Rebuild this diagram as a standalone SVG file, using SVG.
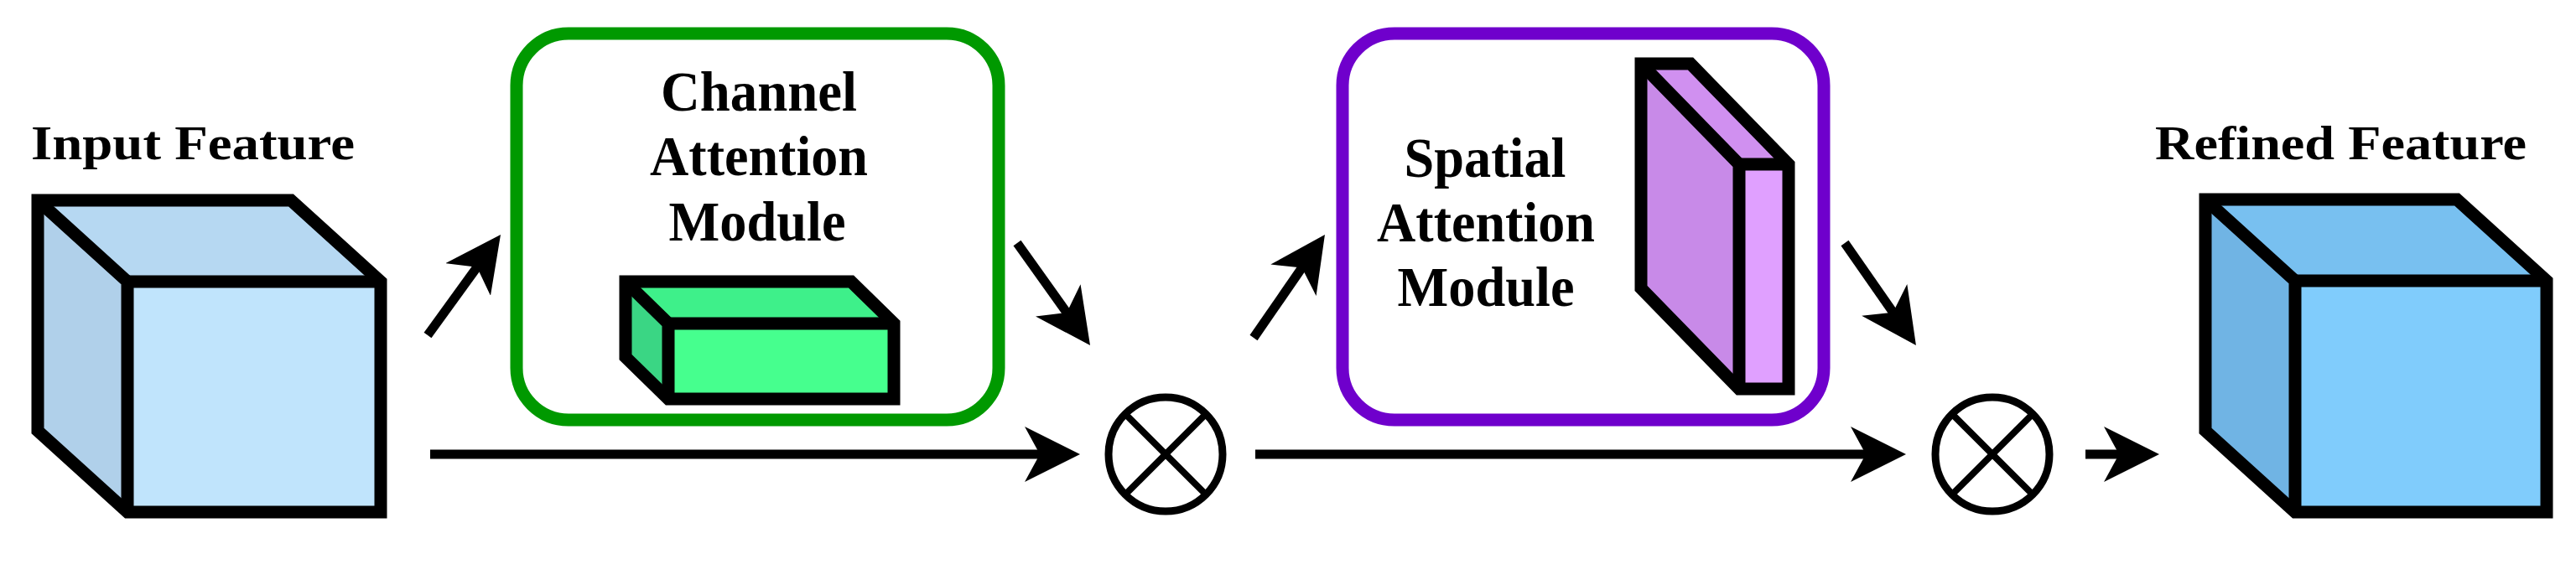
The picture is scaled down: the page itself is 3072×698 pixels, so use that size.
<svg xmlns="http://www.w3.org/2000/svg" width="3072" height="698" viewBox="0 0 3072 698">
<defs>
<style>
.lbl{font-family:"Liberation Serif","Times New Roman",serif;font-weight:bold;fill:#000;}
.big{font-size:57px;}
.mod{font-size:68px;text-anchor:middle;}
.out{fill:none;stroke:#000;stroke-width:15;stroke-linejoin:miter;}
.inner{fill:none;stroke:#000;stroke-width:15;stroke-linejoin:miter;}
.conn{stroke:#000;stroke-width:11;fill:none;marker-end:url(#head);}
.op{fill:#fff;stroke:#000;stroke-width:9;}
.opx{stroke:#000;stroke-width:8;}
</style>
<marker id="head" markerUnits="userSpaceOnUse" viewBox="0 0 66 66" refX="36" refY="33" markerWidth="66" markerHeight="66" orient="auto">
<path d="M0,0 L66,33 L0,66 L18,33 Z" fill="#000"/>
</marker>
</defs>
<rect width="3072" height="698" fill="#fff"/>

<g id="input-feature">
<text class="lbl big" x="37" y="190" textLength="386" lengthAdjust="spacingAndGlyphs">Input Feature</text>
<polygon points="45,239 347,239 454,336 152,336" fill="#b6d8f2"/>
<polygon points="45,239 152,336 152,611 45,514" fill="#b0d0ea"/>
<rect x="152" y="336" width="302" height="275" fill="#c0e4fc"/>
<polyline class="inner" points="45,239 152,336 152,611"/>
<line class="inner" x1="152" y1="336" x2="454" y2="336"/>
<polygon class="out" points="45,239 347,239 454,336 454,611 152,611 45,514"/>
</g>

<g id="channel-attention">
<rect x="616" y="40" width="575" height="461" rx="62" ry="62" fill="#fff" stroke="#009900" stroke-width="15"/>
<text class="lbl mod" x="905" y="132" textLength="234" lengthAdjust="spacingAndGlyphs">Channel</text>
<text class="lbl mod" x="905" y="209" textLength="260" lengthAdjust="spacingAndGlyphs">Attention</text>
<text class="lbl mod" x="903" y="287" textLength="211" lengthAdjust="spacingAndGlyphs">Module</text>
<polygon points="746,336 1015,336 1066,386 797,386" fill="#3ef08a"/>
<polygon points="746,336 797,386 797,476 746,426" fill="#3ad684"/>
<rect x="797" y="386" width="269" height="90" fill="#46ff8e"/>
<polyline class="inner" points="746,336 797,386 797,476"/>
<line class="inner" x1="797" y1="386" x2="1066" y2="386"/>
<polygon class="out" points="746,336 1015,336 1066,386 1066,476 797,476 746,426"/>
</g>

<g id="multiply-1">
<circle class="op" cx="1390" cy="542" r="68"/>
<line class="opx" x1="1342" y1="494" x2="1438" y2="590"/>
<line class="opx" x1="1438" y1="494" x2="1342" y2="590"/>
</g>

<g id="spatial-attention">
<rect x="1601" y="40" width="574" height="461" rx="62" ry="62" fill="#fff" stroke="#6f00cc" stroke-width="15"/>
<text class="lbl mod" x="1771" y="211" textLength="193" lengthAdjust="spacingAndGlyphs">Spatial</text>
<text class="lbl mod" x="1772" y="288" textLength="260" lengthAdjust="spacingAndGlyphs">Attention</text>
<text class="lbl mod" x="1772" y="365" textLength="211" lengthAdjust="spacingAndGlyphs">Module</text>
<polygon points="1957,76 2016,76 2133,196 2074,196" fill="#d090f0"/>
<polygon points="1957,76 2074,196 2074,464 1957,344" fill="#c88ae8"/>
<rect x="2074" y="196" width="59" height="268" fill="#e0a0ff"/>
<polyline class="inner" points="1957,76 2074,196 2074,464"/>
<line class="inner" x1="2074" y1="196" x2="2133" y2="196"/>
<polygon class="out" points="1957,76 2016,76 2133,196 2133,464 2074,464 1957,344"/>
</g>

<g id="multiply-2">
<circle class="op" cx="2376" cy="542" r="68"/>
<line class="opx" x1="2328" y1="494" x2="2424" y2="590"/>
<line class="opx" x1="2424" y1="494" x2="2328" y2="590"/>
</g>

<g id="refined-feature">
<text class="lbl big" x="2570" y="190" textLength="443" lengthAdjust="spacingAndGlyphs">Refined Feature</text>
<polygon points="2630,238 2930,238 3037,335 2737,335" fill="#78c0f0"/>
<polygon points="2630,238 2737,335 2737,611 2630,514" fill="#70b4e4"/>
<rect x="2737" y="335" width="300" height="276" fill="#80ccfc"/>
<polyline class="inner" points="2630,238 2737,335 2737,611"/>
<line class="inner" x1="2737" y1="335" x2="3037" y2="335"/>
<polygon class="out" points="2630,238 2930,238 3037,335 3037,611 2737,611 2630,514"/>
</g>

<g id="connectors">
<line class="conn" x1="510" y1="400" x2="579.4" y2="304.3"/>
<line class="conn" x1="1213" y1="290" x2="1282.6" y2="387.6"/>
<line class="conn" x1="1495" y1="403" x2="1562.9" y2="304.7"/>
<line class="conn" x1="2200" y1="290" x2="2267.8" y2="387.4"/>
<line class="conn" x1="513" y1="542" x2="1258" y2="542"/>
<line class="conn" x1="1497" y1="542" x2="2243" y2="542"/>
<line class="conn" x1="2487" y1="542" x2="2545" y2="542"/>
</g>
</svg>
